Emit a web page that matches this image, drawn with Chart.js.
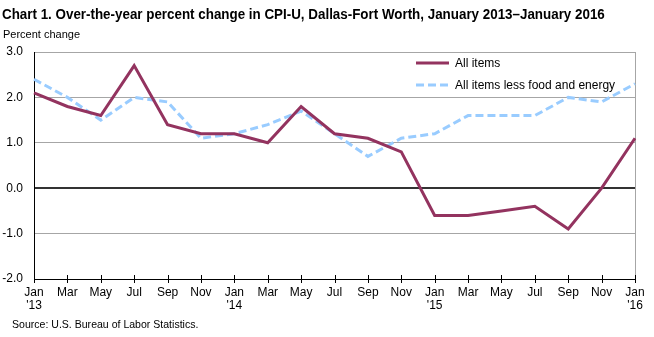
<!DOCTYPE html>
<html>
<head>
<meta charset="utf-8">
<script src="https://cdn.jsdelivr.net/npm/chart.js@4"></script>
<style>
  html, body { margin:0; padding:0; background:#fff; }
  #wrap { position:relative; width:654px; height:337px; overflow:hidden; font-family:'Liberation Sans', Arial, sans-serif; color:#000; }
  #chart { position:absolute; left:0; top:0; }
  .txt { position:absolute; white-space:nowrap; line-height:1; transform-origin:0 0; }
  #title { left:2px; top:7px; font-size:14px; font-weight:bold; }
  #ylab { left:3px; top:29px; font-size:11px; }
  #source { left:12px; top:319px; font-size:11px; }
  #legend { position:absolute; left:416px; top:52px; font-size:12px; }
  .lg-row { display:flex; align-items:center; height:22px; }
  .lg-row svg { margin-right:6px; }
</style>
</head>
<body>
<div id="wrap">
  <canvas id="chart" width="654" height="337"></canvas>
  <div class="txt" id="title">Chart 1. Over-the-year percent change in CPI-U, Dallas-Fort Worth, January 2013–January 2016</div>
  <div class="txt" id="ylab">Percent change</div>
  <div class="txt" id="source">Source: U.S. Bureau of Labor Statistics.</div>
  <div id="legend">
    <div class="lg-row"><svg width="33" height="6"><line x1="0" y1="3" x2="33" y2="3" stroke="#93335f" stroke-width="3"/></svg>All items</div>
    <div class="lg-row"><svg width="33" height="6"><line x1="0" y1="3" x2="33" y2="3" stroke="#99ccff" stroke-width="3" stroke-dasharray="8,4"/></svg>All items less food and energy</div>
  </div>
</div>
<script>
// bimonthly, Jan 2013 – Jan 2016
const MONTHS = ['Jan','Mar','May','Jul','Sep','Nov','Jan','Mar','May','Jul','Sep','Nov','Jan','Mar','May','Jul','Sep','Nov','Jan'];
const YEARS  = ["'13",'','','','','',"'14",'','','','','',"'15",'','','','','',"'16"];
const ALL_ITEMS  = [2.1,1.8,1.6,2.7,1.4,1.2,1.2,1.0,1.8,1.2,1.1,0.8,-0.6,-0.6,-0.5,-0.4,-0.9,0.0,1.1];
const CORE_ITEMS = [2.4,2.0,1.5,2.0,1.9,1.1,1.2,1.4,1.7,1.2,0.7,1.1,1.2,1.6,1.6,1.6,2.0,1.9,2.3];
const Y_MIN = -2, Y_MAX = 3, Y_STEP = 1;

// squeeze header/footer texts to the reference width (title is a condensed face)
function fitWidth(id, w){
  const el = document.getElementById(id);
  el.style.transform = `scaleX(${w/el.offsetWidth})`;
}
fitWidth('title', 603);
fitWidth('source', 186);

const labels = MONTHS.map((m,i) => YEARS[i] ? [m, YEARS[i]] : m);
const FONT = { family:"'Liberation Sans', Arial, sans-serif", size:12, lineHeight:1.1 };

// tick marks crossing the x axis
const crossTicks = {
  id:'cross-ticks',
  afterDraw(chart){
    const {ctx, chartArea} = chart;
    const x = chart.scales.x;
    ctx.save();
    ctx.strokeStyle = '#000';
    ctx.lineWidth = 1;
    x.ticks.forEach((t,i) => {
      const px = Math.round(x.getPixelForTick(i)) + 0.5;
      ctx.beginPath();
      ctx.moveTo(px, chartArea.bottom - 4);
      ctx.lineTo(px, chartArea.bottom + 4);
      ctx.stroke();
    });
    ctx.restore();
  }
};

new Chart(document.getElementById('chart'), {
  type:'line',
  data:{
    labels,
    datasets:[
      { label:'All items', data:ALL_ITEMS, borderColor:'#93335f', borderWidth:3, pointRadius:0, tension:0 },
      { label:'All items less food and energy', data:CORE_ITEMS, borderColor:'#99ccff', borderWidth:3, borderDash:[8,4], pointRadius:0, tension:0 }
    ]
  },
  options:{
    responsive:false, animation:false,
    layout:{ padding:{ left:0, top:52, right:19, bottom:0 } },
    plugins:{ legend:{ display:false }, tooltip:{ enabled:false } },
    scales:{
      x:{
        offset:false,
        afterFit: s => { s.height = 58; },
        grid:{
          drawOnChartArea:true, drawTicks:false,
          color: c => c.index === MONTHS.length-1 ? '#a6a6a6' : 'rgba(0,0,0,0)'
        },
        border:{ color:'#000', width:1 },
        ticks:{ color:'#000', font:FONT, padding:7, autoSkip:false, maxRotation:0 }
      },
      y:{
        min:Y_MIN, max:Y_MAX,
        afterFit: s => { s.width = 34; },
        grid:{
          drawTicks:false,
          color: c => c.tick && c.tick.value === 0 ? '#333' : '#a6a6a6',
          lineWidth: c => c.tick && c.tick.value === 0 ? 2 : 1
        },
        border:{ color:'#000', width:1 },
        ticks:{ stepSize:Y_STEP, color:'#000', font:FONT, padding:11, callback: v => v.toFixed(1) }
      }
    }
  },
  plugins:[crossTicks]
});
</script>
</body>
</html>
